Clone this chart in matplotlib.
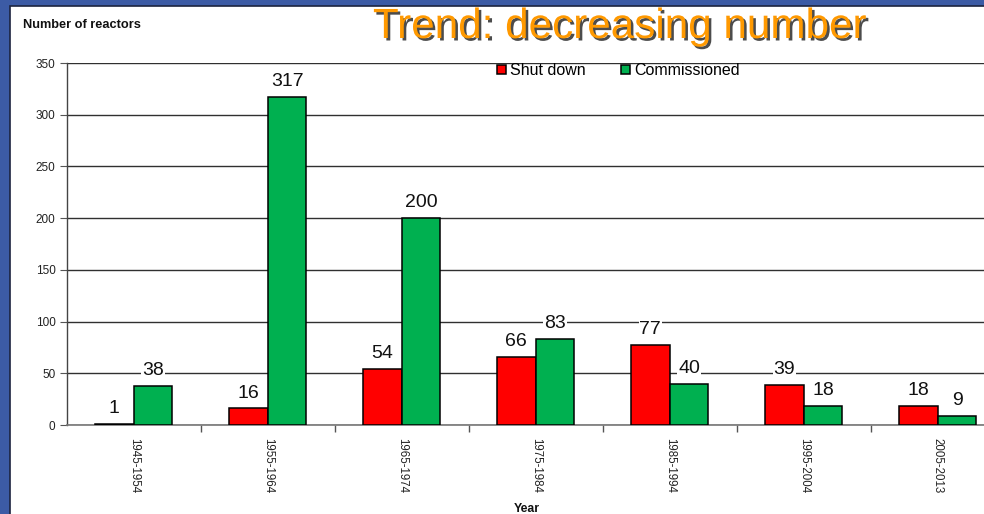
import numpy as np
import matplotlib.pyplot as plt
import matplotlib.patheffects as pe
from matplotlib.patches import Rectangle

plt.rcParams['font.family'] = ['Liberation Sans', 'DejaVu Sans']

periods = ["1945-1954", "1955-1964", "1965-1974", "1975-1984",
           "1985-1994", "1995-2004", "2005-2013"]
shut_down = [1, 16, 54, 66, 77, 39, 18]
commissioned = [38, 317, 200, 83, 40, 18, 9]

W, H = 984, 514
fig = plt.figure(figsize=(W / 100, H / 100), dpi=100)
fig.patch.set_facecolor("#3C5BA5")

# white slide panel (runs off the right and bottom edges)
fig.patches.append(Rectangle((10 / W, -0.05), 1.05, 1.05 - 6 / H, transform=fig.transFigure,
                             facecolor="white", edgecolor="#1c2440", linewidth=1.2, zorder=-5))

# axes run a bit past the right edge, like the cropped original
ax = fig.add_axes([66.7 / W, 1 - 425 / H, 938 / W, (425 - 63) / H])
ax.set_facecolor("none")

x = np.arange(len(periods))
bw = 0.289
b1 = ax.bar(x - bw / 2, shut_down, bw, color="#FF0000", edgecolor="black", linewidth=1.1,
            label="Shut down", zorder=3)
b2 = ax.bar(x + bw / 2, commissioned, bw, color="#00B050", edgecolor="black", linewidth=1.1,
            label="Commissioned", zorder=3)

for bars, vals in [(b1, shut_down), (b2, commissioned)]:
    for r, v in zip(bars, vals):
        ax.annotate(str(v), (r.get_x() + r.get_width() / 2, v), xytext=(0, 5),
                    textcoords="offset points", ha="center", va="bottom", fontsize=14,
                    color="#111111", zorder=4,
                    bbox=dict(facecolor="white", edgecolor="none", pad=0.5))

ax.set_xlim(-0.5, len(periods) - 0.5)
ax.set_ylim(0, 350)
ax.set_yticks(range(0, 351, 50))
ax.yaxis.grid(True, color="#303030", linewidth=1.0, zorder=1)
ax.set_axisbelow(True)

ax.set_xticks(x)
ax.set_xticklabels(periods, rotation=270, fontsize=8.3, color="#222222")
ax.set_xticks(np.arange(len(periods)) + 0.5, minor=True)
ax.tick_params(axis="x", which="major", length=0, pad=9)
ax.tick_params(axis="x", which="minor", length=5, color="#555555", width=1)
ax.tick_params(axis="y", length=5, color="#555555", labelsize=8.5, labelcolor="#222222", pad=3)

for s in ["top", "right"]:
    ax.spines[s].set_visible(False)
ax.spines["left"].set_color("#444444")
ax.spines["bottom"].set_color("#777777")
ax.spines["left"].set_linewidth(1.0)
ax.spines["bottom"].set_linewidth(1.2)

ax.legend(loc="upper left", bbox_to_anchor=(497 / W, 1 - 63 / H), bbox_transform=fig.transFigure,
          ncol=2, frameon=False, fontsize=11.5, handlelength=0.55, handleheight=0.55,
          handletextpad=0.25, columnspacing=2.25, borderpad=0, borderaxespad=0)

fig.text(23 / W, 1 - 25 / H, "Number of reactors", fontsize=9.2, fontweight="bold",
         ha="left", va="center", color="#111111")
fig.text(527 / W, 1 - 509 / H, "Year", fontsize=8.8, fontweight="bold",
         ha="center", va="center", color="#111111")

fig.text(620 / W, 1 - 27 / H, "Trend: decreasing number", fontsize=30.4, color="#FF9900",
         ha="center", va="center",
         path_effects=[pe.SimplePatchShadow(offset=(1.8, -1.8), shadow_rgbFace="black", alpha=0.7),
                       pe.Normal()])

fig.savefig("out.png", dpi=100, facecolor=fig.get_facecolor())
